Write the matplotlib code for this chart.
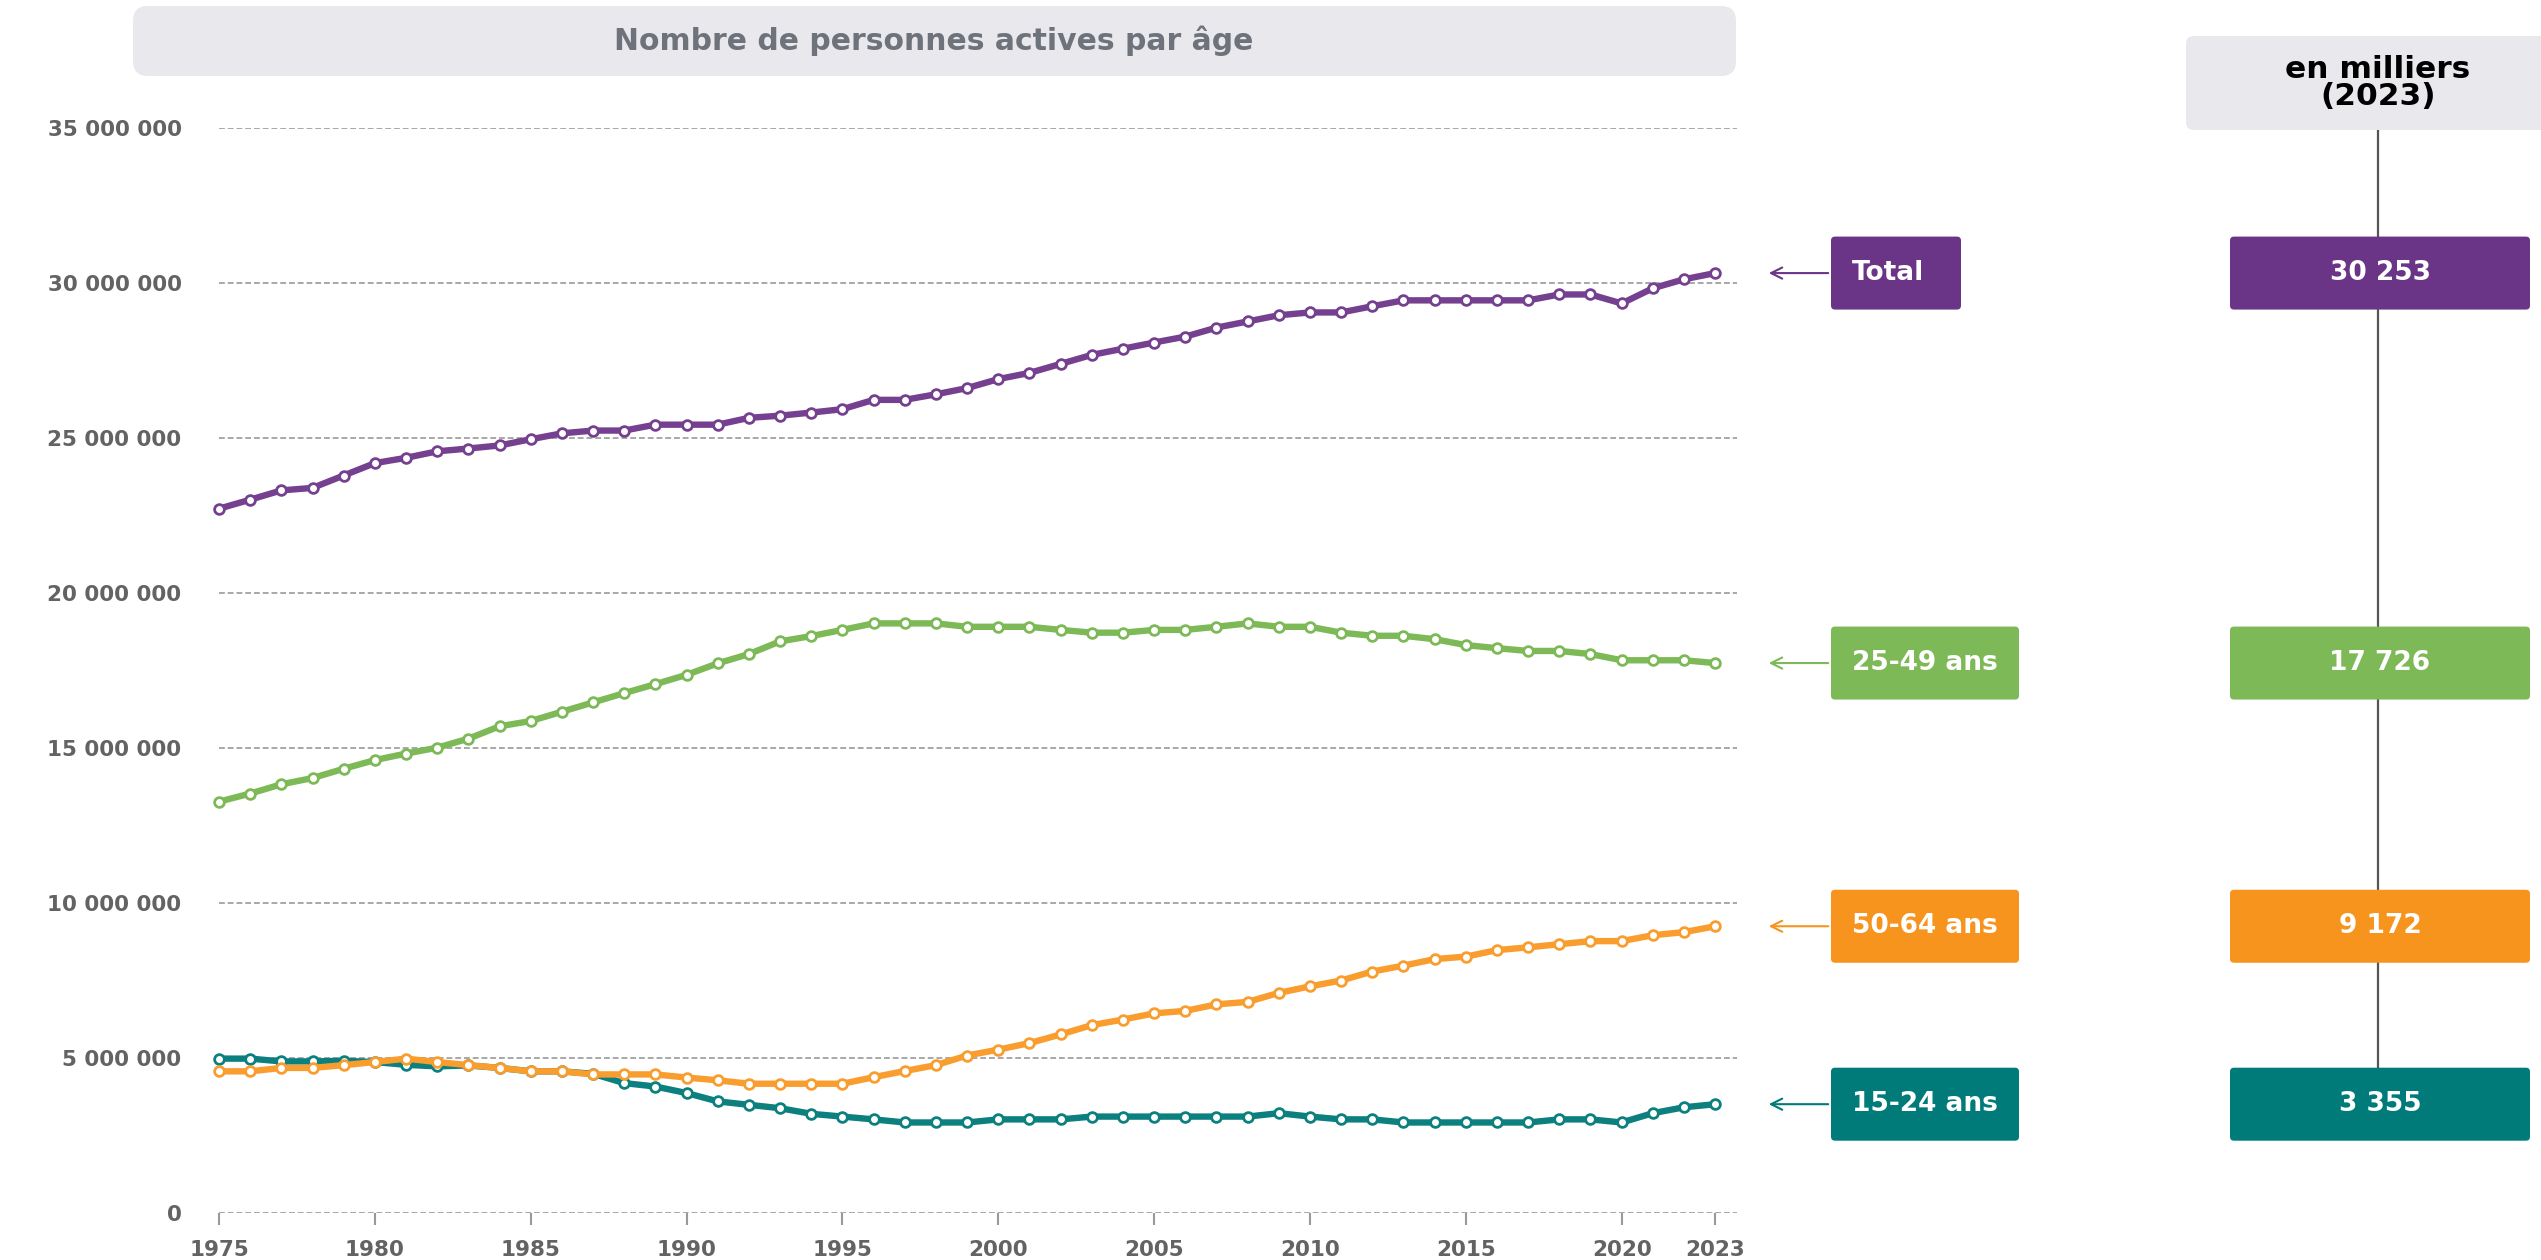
import numpy as np
import matplotlib
matplotlib.use("Agg")
import matplotlib.pyplot as plt
from matplotlib.patches import FancyBboxPatch, FancyArrowPatch
from matplotlib.lines import Line2D
from matplotlib.ticker import FuncFormatter

# data (millions of people)
years = list(range(1975, 2024))
total = [22.72, 23.01, 23.31, 23.39, 23.79, 24.19, 24.36, 24.57, 24.66, 24.76,
         24.96, 25.15, 25.24, 25.24, 25.43, 25.43, 25.43, 25.65, 25.72, 25.82,
         25.93, 26.23, 26.23, 26.41, 26.61, 26.90, 27.10, 27.39, 27.68, 27.88,
         28.08, 28.27, 28.56, 28.76, 28.96, 29.05, 29.05, 29.25, 29.44, 29.44,
         29.44, 29.44, 29.44, 29.63, 29.63, 29.34, 29.83, 30.12, 30.32]
age_25_49 = [13.27, 13.53, 13.83, 14.03, 14.33, 14.61, 14.82, 15.01, 15.30, 15.70,
             15.87, 16.17, 16.47, 16.77, 17.06, 17.36, 17.73, 18.03, 18.44, 18.61,
             18.81, 19.02, 19.02, 19.02, 18.91, 18.91, 18.91, 18.81, 18.72, 18.72,
             18.81, 18.81, 18.91, 19.02, 18.91, 18.91, 18.72, 18.62, 18.62, 18.51,
             18.32, 18.22, 18.13, 18.13, 18.03, 17.83, 17.83, 17.83, 17.74]
age_50_64 = [4.57, 4.57, 4.68, 4.68, 4.77, 4.87, 4.98, 4.87, 4.77, 4.68,
             4.57, 4.57, 4.47, 4.47, 4.47, 4.37, 4.28, 4.17, 4.17, 4.17,
             4.17, 4.38, 4.58, 4.77, 5.08, 5.27, 5.48, 5.76, 6.06, 6.24,
             6.44, 6.52, 6.73, 6.81, 7.10, 7.31, 7.50, 7.79, 7.98, 8.19,
             8.27, 8.48, 8.57, 8.67, 8.77, 8.77, 8.96, 9.06, 9.25]
age_15_24 = [4.98, 4.98, 4.89, 4.89, 4.91, 4.87, 4.78, 4.73, 4.76, 4.68,
             4.57, 4.57, 4.49, 4.19, 4.08, 3.87, 3.60, 3.49, 3.38, 3.20,
             3.11, 3.02, 2.92, 2.92, 2.92, 3.02, 3.02, 3.02, 3.11, 3.11,
             3.11, 3.11, 3.11, 3.11, 3.22, 3.11, 3.02, 3.02, 2.92, 2.92,
             2.92, 2.92, 2.92, 3.02, 3.02, 2.92, 3.22, 3.41, 3.51]

labels = ["Total", "25-49 ans", "50-64 ans", "15-24 ans"]
values_2023 = ["30 253", "17 726", "9 172", "3 355"]
colors = ["#6B3587", "#7DB956", "#F7941E", "#007B7A"]
line_colors = ["#74408F", "#7DB956", "#F99D2E", "#0B807E"]
xticks = [1975, 1980, 1985, 1990, 1995, 2000, 2005, 2010, 2015, 2020, 2023]

W, H = 2541, 1260
plt.rcParams["font.family"] = ["DejaVu Sans"]
fig = plt.figure(figsize=(W / 100, H / 100), dpi=100)
ax = fig.add_axes([219 / W, 1 - 1213 / H, (1737 - 219) / W, (1213 - 128) / H])

all_series = [total, age_25_49, age_50_64, age_15_24]
# draw teal first, then orange, green, total
for i in [3, 2, 1, 0]:
    ax.plot(years, np.array(all_series[i]) * 1e6, color=line_colors[i], lw=4.6,
            marker="o", ms=7, mfc="white", mec=line_colors[i], mew=2.0,
            clip_on=False, zorder=3, solid_joinstyle="round")

ax.set_xlim(1975, 2023.7)
ax.set_ylim(0, 35e6)
ax.set_yticks(np.arange(0, 35e6 + 1, 5e6))
ax.yaxis.set_major_formatter(FuncFormatter(lambda v, p: f"{int(v):,}".replace(",", " ")))
ax.set_xticks(xticks)
ax.grid(axis="y", color="#a8a8a8", lw=1.4, ls=(0, (3, 1.5)))
ax.set_axisbelow(True)
for s in ax.spines.values():
    s.set_visible(False)
ax.tick_params(axis="y", length=0, pad=27, labelsize=15.5, labelcolor="#636363")
ax.tick_params(axis="x", length=8.6, width=1.5, color="#999999", pad=11,
               labelsize=15.5, labelcolor="#636363")
for lab in ax.get_xticklabels() + ax.get_yticklabels():
    lab.set_fontweight("bold")

T = fig.dpi_scale_trans

def box(x0, y0, w, h, color, r):
    p = FancyBboxPatch((x0, y0), w, h, boxstyle=f"round,pad=0,rounding_size={r}",
                       transform=T, fc=color, ec="none", zorder=2)
    fig.add_artist(p)

# title banner
box(1.33, (H - 76) / 100, 16.03, 0.70, "#E8E8ED", 0.15)
fig.text(934 / W, 1 - 41 / H, "Nombre de personnes actives par âge", ha="center",
         va="center", fontsize=21.5, fontweight="bold", color="#6E737B")

# header of right column
box(21.86, (H - 130) / 100, 3.8, 0.94, "#E8E8ED", 0.08)
fig.text(23.78 / (W / 100), 1 - 83 / H, "en milliers\n(2023)", ha="center",
         va="center", fontsize=22.5, fontweight="bold", color="black", linespacing=0.9)

# label boxes aligned with last values
last_y = []
for i in range(4):
    yd = ax.transData.transform((2023, all_series[i][-1] * 1e6))[1] / 100
    last_y.append(yd)
    bw = 1.30 if i == 0 else 1.88
    box(18.31, yd - 0.365, bw, 0.73, colors[i], 0.04)
    fig.text(18.52 / (W / 100), yd / (H / 100), labels[i], ha="left", va="center",
             fontsize=19, fontweight="bold", color="white", zorder=4)
    arr = FancyArrowPatch((18.31, yd), (17.66, yd), transform=T, arrowstyle="->",
                          mutation_scale=20, color=colors[i], lw=1.5)
    fig.add_artist(arr)
    box(22.30, yd - 0.365, 3.00, 0.73, colors[i], 0.04)
    fig.text(23.80 / (W / 100), yd / (H / 100), values_2023[i], ha="center",
             va="center", fontsize=19, fontweight="bold", color="white", zorder=4)

fig.add_artist(Line2D([23.78, 23.78], [(H - 130) / 100, last_y[3] + 0.365],
                      transform=T, color="#555555", lw=1.6, zorder=1))

fig.savefig("out.png", dpi=100)
